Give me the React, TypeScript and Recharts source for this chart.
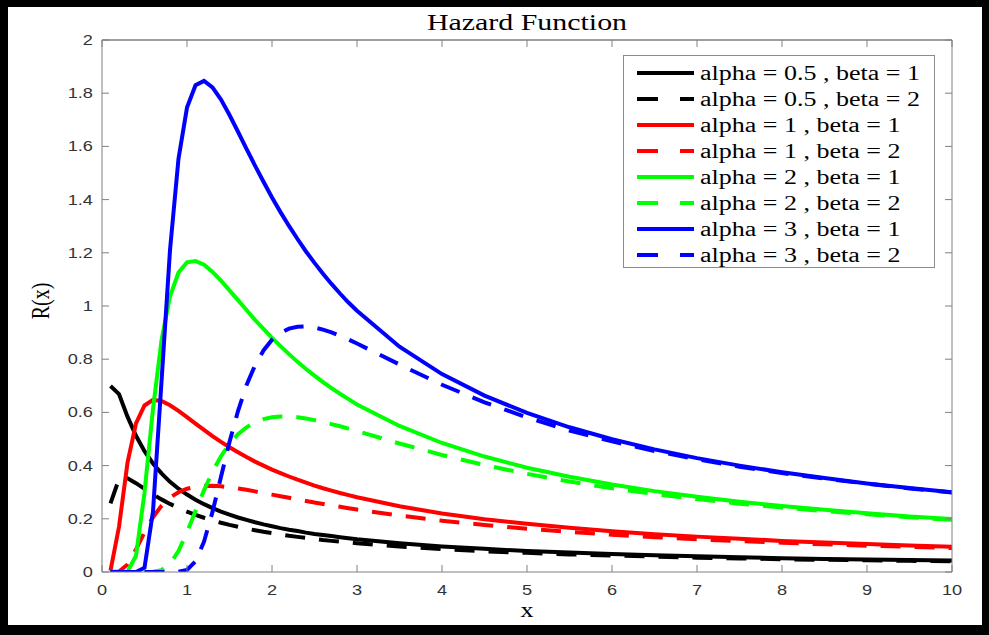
import React from "react";
import { LineChart, Line, XAxis, YAxis, Legend, ReferenceLine } from "recharts";

// x grid: fine steps up to 3, coarser in the smooth tail
const X = [
  0.1, 0.2, 0.3, 0.4, 0.5, 0.6, 0.7, 0.8, 0.9, 1.0,
  1.1, 1.2, 1.3, 1.4, 1.5, 1.6, 1.7, 1.8, 1.9, 2.0,
  2.1, 2.2, 2.3, 2.4, 2.5, 2.6, 2.7, 2.8, 2.9, 3.0,
  3.5, 4, 4.5, 5, 5.5, 6, 6.5, 7, 7.5, 8, 8.5, 9, 9.5, 10,
];

const A05_B1 = [
  0.699, 0.669, 0.584, 0.512, 0.454, 0.408, 0.371, 0.339, 0.313, 0.291,
  0.272, 0.255, 0.24, 0.227, 0.216, 0.205, 0.196, 0.187, 0.179, 0.172,
  0.165, 0.159, 0.154, 0.148, 0.143, 0.139, 0.135, 0.131, 0.127, 0.123,
  0.108, 0.096, 0.087, 0.079, 0.073, 0.068, 0.063, 0.059, 0.055, 0.052, 0.049, 0.047, 0.045, 0.043,
];
const A05_B2 = [
  0.258, 0.35, 0.352, 0.334, 0.313, 0.292, 0.273, 0.256, 0.241, 0.227,
  0.215, 0.204, 0.194, 0.185, 0.177, 0.17, 0.163, 0.157, 0.151, 0.146,
  0.141, 0.136, 0.132, 0.128, 0.124, 0.12, 0.117, 0.114, 0.111, 0.108,
  0.096, 0.086, 0.078, 0.072, 0.066, 0.062, 0.058, 0.054, 0.051, 0.048, 0.046, 0.044, 0.042, 0.04,
];
const A1_B1 = [
  0.005, 0.17, 0.411, 0.559, 0.626, 0.647, 0.643, 0.627, 0.606, 0.582,
  0.558, 0.534, 0.511, 0.489, 0.469, 0.45, 0.432, 0.415, 0.4, 0.385,
  0.372, 0.359, 0.347, 0.336, 0.325, 0.315, 0.306, 0.297, 0.289, 0.281,
  0.247, 0.22, 0.198, 0.181, 0.166, 0.153, 0.142, 0.133, 0.125, 0.117, 0.111, 0.105, 0.1, 0.095,
];
const A1_B2 = [
  0, 0.002, 0.028, 0.085, 0.149, 0.206, 0.249, 0.28, 0.3, 0.313,
  0.32, 0.323, 0.324, 0.322, 0.318, 0.314, 0.309, 0.303, 0.297, 0.291,
  0.285, 0.279, 0.273, 0.267, 0.261, 0.256, 0.25, 0.245, 0.24, 0.235,
  0.212, 0.193, 0.177, 0.163, 0.151, 0.14, 0.131, 0.123, 0.116, 0.11, 0.104, 0.099, 0.095, 0.09,
];
const A2_B1 = [
  0, 0, 0.001, 0.061, 0.298, 0.614, 0.871, 1.036, 1.126, 1.164,
  1.169, 1.155, 1.128, 1.095, 1.059, 1.022, 0.985, 0.948, 0.914, 0.88,
  0.849, 0.819, 0.79, 0.763, 0.738, 0.714, 0.691, 0.67, 0.65, 0.63,
  0.549, 0.485, 0.434, 0.392, 0.358, 0.329, 0.304, 0.283, 0.264, 0.248, 0.234, 0.221, 0.209, 0.199,
];
const A2_B2 = [
  0, 0, 0, 0, 0, 0.001, 0.007, 0.03, 0.079, 0.149,
  0.229, 0.307, 0.377, 0.435, 0.482, 0.518, 0.544, 0.563, 0.575, 0.582,
  0.585, 0.585, 0.582, 0.577, 0.571, 0.564, 0.556, 0.548, 0.539, 0.53,
  0.483, 0.44, 0.402, 0.369, 0.34, 0.315, 0.293, 0.274, 0.257, 0.242, 0.229, 0.217, 0.206, 0.196,
];
const A3_B1 = [
  0, 0, 0, 0, 0.016, 0.228, 0.716, 1.21, 1.554, 1.746,
  1.83, 1.846, 1.822, 1.776, 1.718, 1.655, 1.591, 1.528, 1.467, 1.408,
  1.353, 1.301, 1.252, 1.205, 1.162, 1.121, 1.083, 1.047, 1.013, 0.982,
  0.847, 0.744, 0.663, 0.598, 0.544, 0.499, 0.461, 0.428, 0.4, 0.375, 0.353, 0.333, 0.316, 0.3,
];
const A3_B2 = [
  0, 0, 0, 0, 0, 0, 0, 0, 0.001, 0.008,
  0.04, 0.114, 0.226, 0.358, 0.489, 0.605, 0.702, 0.777, 0.833, 0.873,
  0.899, 0.915, 0.922, 0.923, 0.919, 0.911, 0.901, 0.888, 0.874, 0.859,
  0.78, 0.704, 0.638, 0.581, 0.532, 0.491, 0.455, 0.424, 0.396, 0.372, 0.351, 0.332, 0.314, 0.299,
];

const SERIES = [
  { key: "a05b1", name: "alpha = 0.5 , beta = 1", color: "#000000", dashed: false, values: A05_B1 },
  { key: "a05b2", name: "alpha = 0.5 , beta = 2", color: "#000000", dashed: true, values: A05_B2 },
  { key: "a1b1", name: "alpha = 1 , beta = 1", color: "#ff0000", dashed: false, values: A1_B1 },
  { key: "a1b2", name: "alpha = 1 , beta = 2", color: "#ff0000", dashed: true, values: A1_B2 },
  { key: "a2b1", name: "alpha = 2 , beta = 1", color: "#00ff00", dashed: false, values: A2_B1 },
  { key: "a2b2", name: "alpha = 2 , beta = 2", color: "#00ff00", dashed: true, values: A2_B2 },
  { key: "a3b1", name: "alpha = 3 , beta = 1", color: "#0000ff", dashed: false, values: A3_B1 },
  { key: "a3b2", name: "alpha = 3 , beta = 2", color: "#0000ff", dashed: true, values: A3_B2 },
];

const X_TICKS = [0, 1, 2, 3, 4, 5, 6, 7, 8, 9, 10];
const Y_TICKS = [0, 0.2, 0.4, 0.6, 0.8, 1, 1.2, 1.4, 1.6, 1.8, 2];

const rows = X.map((x, i) => {
  const r: Record<string, number> = { x };
  SERIES.forEach((s) => (r[s.key] = s.values[i]));
  return r;
});

const AXIS = "#808080";
const SERIF = "'Liberation Serif', 'Times New Roman', serif";
const SANS = "'Liberation Sans', Arial, sans-serif";
// the source figure is stretched sideways, text included
const STRETCH = 1.3;
const TICK_LEN = 7;

const labelStyle = (origin: string) => ({
  transformBox: "fill-box" as const,
  transformOrigin: origin,
  transform: `scaleX(${STRETCH})`,
});

// ticks point inward (matlab style); with tickSize/tickMargin 0 the tick
// position handed in is exactly on the axis line
const BottomTick = (p: any) => (
  <g>
    <line x1={p.x} x2={p.x} y1={p.y} y2={p.y - TICK_LEN} stroke={AXIS} />
    <text
      x={p.x}
      y={p.y + 23}
      textAnchor="middle"
      fontSize={14}
      fontFamily={SANS}
      fill="#333"
      style={labelStyle("center")}
    >
      {p.payload.value}
    </text>
  </g>
);
const LeftTick = (p: any) => (
  <g>
    <line x1={p.x} x2={p.x + TICK_LEN} y1={p.y} y2={p.y} stroke={AXIS} />
    <text
      x={p.x - 9}
      y={p.y}
      dy="0.36em"
      textAnchor="end"
      fontSize={14}
      fontFamily={SANS}
      fill="#333"
      style={labelStyle("right center")}
    >
      {p.payload.value}
    </text>
  </g>
);
const TopTick = (p: any) => <line x1={p.x} x2={p.x} y1={p.y} y2={p.y + TICK_LEN} stroke={AXIS} />;
const RightTick = (p: any) => <line x1={p.x} x2={p.x - TICK_LEN} y1={p.y} y2={p.y} stroke={AXIS} />;

function LegendBox() {
  return (
    <div
      style={{
        boxSizing: "border-box",
        width: 312,
        height: 213,
        border: "1px solid #8c8c8c",
        background: "#fff",
        paddingTop: 4,
      }}
    >
      {SERIES.map((s) => (
        <div key={s.key} style={{ display: "flex", alignItems: "center", height: 26 }}>
          <svg width={70} height={26} style={{ flex: "none" }}>
            <line
              x1={13}
              x2={70}
              y1={13}
              y2={13}
              stroke={s.color}
              strokeWidth={4}
              strokeDasharray={s.dashed ? "21 22" : undefined}
            />
          </svg>
          <span
            style={{
              marginLeft: 6,
              display: "inline-block",
              fontFamily: SERIF,
              fontSize: 20,
              lineHeight: "26px",
              color: "#000",
              whiteSpace: "nowrap",
              transform: `scaleX(${STRETCH})`,
              transformOrigin: "left center",
            }}
          >
            {s.name}
          </span>
        </div>
      ))}
    </div>
  );
}

export default function App() {
  return (
    <div style={{ position: "absolute", left: 0, top: 0, width: 989, height: 635, background: "#fff" }}>
      <LineChart width={989} height={635} data={rows} margin={{ top: 39, right: 36, bottom: 23, left: 42 }}>
        <XAxis
          xAxisId="b"
          dataKey="x"
          type="number"
          domain={[0, 10]}
          ticks={X_TICKS}
          allowDataOverflow
          height={40}
          stroke={AXIS}
          tickLine={false}
          tickSize={0}
          tickMargin={0}
          tick={BottomTick}
        />
        <XAxis
          xAxisId="t"
          orientation="top"
          dataKey="x"
          type="number"
          domain={[0, 10]}
          ticks={X_TICKS}
          allowDataOverflow
          height={1}
          stroke={AXIS}
          tickLine={false}
          tickSize={0}
          tickMargin={0}
          tick={TopTick}
        />
        <YAxis
          yAxisId="l"
          type="number"
          domain={[0, 2]}
          ticks={Y_TICKS}
          allowDataOverflow
          width={60}
          stroke={AXIS}
          tickLine={false}
          tickSize={0}
          tickMargin={0}
          tick={LeftTick}
        />
        <YAxis
          yAxisId="r"
          orientation="right"
          type="number"
          domain={[0, 2]}
          ticks={Y_TICKS}
          allowDataOverflow
          width={1}
          stroke={AXIS}
          tickLine={false}
          tickSize={0}
          tickMargin={0}
          tick={RightTick}
        />
        <ReferenceLine xAxisId="b" yAxisId="l" y={2} stroke={AXIS} strokeWidth={1} ifOverflow="visible" />
        <Legend
          layout="horizontal"
          verticalAlign="middle"
          align="center"
          content={() => <LegendBox />}
          wrapperStyle={{ position: "absolute", left: 623, top: 55, width: 312, height: 213 }}
        />
        {SERIES.map((s) => (
          <Line
            key={s.key}
            xAxisId="b"
            yAxisId="l"
            dataKey={s.key}
            name={s.name}
            type="linear"
            stroke={s.color}
            strokeWidth={4}
            strokeDasharray={s.dashed ? "20 14" : undefined}
            dot={false}
            activeDot={false}
            isAnimationActive={false}
          />
        ))}
      </LineChart>

      <div
        style={{
          position: "absolute",
          left: 327,
          width: 400,
          top: 11,
          textAlign: "center",
          fontFamily: SERIF,
          fontSize: 23,
          lineHeight: 1,
          color: "#000",
          transform: `scaleX(${STRETCH})`,
        }}
      >
        Hazard Function
      </div>
      <div
        style={{
          position: "absolute",
          left: 477,
          width: 100,
          top: 600,
          textAlign: "center",
          fontFamily: SERIF,
          fontSize: 20,
          lineHeight: 1,
          color: "#000",
          transform: `scaleX(${STRETCH})`,
        }}
      >
        x
      </div>
      <div
        style={{
          position: "absolute",
          left: 0,
          width: 80,
          top: 291,
          textAlign: "center",
          fontFamily: SERIF,
          fontSize: 20,
          lineHeight: "20px",
          color: "#000",
          transform: `rotate(-90deg) scaleY(${STRETCH})`,
        }}
      >
        R(x)
      </div>

      <div
        style={{
          position: "absolute",
          left: 0,
          top: 0,
          width: 989,
          height: 635,
          boxSizing: "border-box",
          borderStyle: "solid",
          borderColor: "#000",
          borderWidth: "7px 7px 10px 8px",
          pointerEvents: "none",
        }}
      />
    </div>
  );
}
